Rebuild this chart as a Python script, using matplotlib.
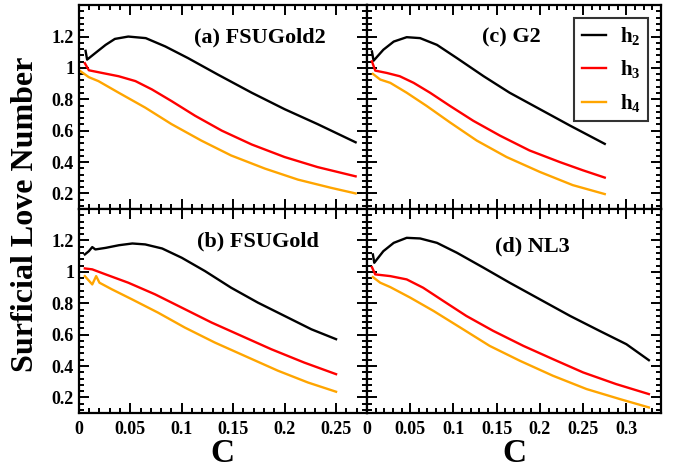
import numpy as np
import matplotlib
matplotlib.use("Agg")
import matplotlib.pyplot as plt
from matplotlib.ticker import MultipleLocator, FuncFormatter

plt.rcParams['font.family'] = ['Liberation Serif', 'DejaVu Serif']
plt.rcParams['font.weight'] = 'bold'
plt.rcParams['mathtext.fontset'] = 'custom'
plt.rcParams['mathtext.rm'] = 'Liberation Serif:bold'
plt.rcParams['mathtext.it'] = 'Liberation Serif:bold'
plt.rcParams['mathtext.bf'] = 'Liberation Serif:bold'

# (a) FSUGold2
a_h2_c = [0.0065, 0.008, 0.016, 0.026, 0.035, 0.048, 0.065, 0.084, 0.106, 0.135, 0.168, 0.2, 0.232, 0.269]
a_h2_v = [1.109, 1.053, 1.095, 1.147, 1.185, 1.2, 1.19, 1.137, 1.063, 0.958, 0.842, 0.737, 0.642, 0.526]
a_h3_c = [0.0058, 0.0097, 0.0226, 0.0387, 0.055, 0.071, 0.09, 0.113, 0.139, 0.168, 0.2, 0.232, 0.269]
a_h3_v = [1.03, 0.985, 0.968, 0.947, 0.916, 0.863, 0.789, 0.695, 0.6, 0.512, 0.432, 0.368, 0.309]
a_h4_c = [0.0016, 0.0097, 0.019, 0.0387, 0.0645, 0.09, 0.119, 0.148, 0.181, 0.213, 0.245, 0.269]
a_h4_v = [0.979, 0.941, 0.916, 0.842, 0.747, 0.642, 0.537, 0.442, 0.358, 0.288, 0.236, 0.2]

# (b) FSUGold
b_h2_c = [0.0058, 0.0097, 0.013, 0.016, 0.026, 0.039, 0.052, 0.0645, 0.081, 0.1, 0.1226, 0.148, 0.174, 0.2, 0.226, 0.25]
b_h2_v = [1.111, 1.132, 1.158, 1.143, 1.153, 1.17, 1.181, 1.175, 1.149, 1.09, 1.005, 0.899, 0.804, 0.719, 0.634, 0.571]
b_h3_c = [0.0058, 0.013, 0.026, 0.048, 0.074, 0.1, 0.129, 0.158, 0.187, 0.219, 0.25]
b_h3_v = [1.022, 1.016, 0.984, 0.931, 0.857, 0.772, 0.677, 0.592, 0.507, 0.422, 0.348]
b_h4_c = [0.0058, 0.013, 0.0168, 0.02, 0.032, 0.0516, 0.077, 0.103, 0.132, 0.161, 0.1935, 0.2226, 0.25]
b_h4_v = [0.973, 0.92, 0.973, 0.931, 0.889, 0.825, 0.74, 0.645, 0.55, 0.465, 0.37, 0.295, 0.236]

# (c) G2
c_h2_c = [0.0058, 0.0077, 0.019, 0.031, 0.046, 0.0615, 0.081, 0.104, 0.135, 0.165, 0.2, 0.235, 0.275]
c_h2_v = [1.105, 1.046, 1.116, 1.168, 1.196, 1.19, 1.147, 1.063, 0.947, 0.842, 0.737, 0.632, 0.516]
c_h3_c = [0.0058, 0.0096, 0.023, 0.038, 0.054, 0.073, 0.096, 0.123, 0.154, 0.188, 0.223, 0.25, 0.275]
c_h3_v = [1.042, 0.983, 0.968, 0.947, 0.905, 0.842, 0.758, 0.663, 0.568, 0.474, 0.4, 0.347, 0.301]
c_h4_c = [0.0069, 0.0154, 0.027, 0.046, 0.069, 0.096, 0.127, 0.1615, 0.2, 0.238, 0.275]
c_h4_v = [0.962, 0.926, 0.905, 0.842, 0.758, 0.653, 0.537, 0.432, 0.337, 0.253, 0.196]

# (d) NL3
d_h2_c = [0.0069, 0.0085, 0.019, 0.031, 0.046, 0.0615, 0.081, 0.104, 0.135, 0.165, 0.2, 0.235, 0.269, 0.3, 0.326]
d_h2_v = [1.111, 1.058, 1.132, 1.185, 1.217, 1.213, 1.185, 1.122, 1.026, 0.931, 0.825, 0.719, 0.624, 0.539, 0.437]
d_h3_c = [0.0058, 0.0096, 0.027, 0.046, 0.065, 0.0885, 0.115, 0.146, 0.181, 0.215, 0.25, 0.288, 0.326]
d_h3_v = [1.03, 0.984, 0.973, 0.952, 0.899, 0.814, 0.719, 0.624, 0.528, 0.444, 0.359, 0.285, 0.221]
d_h4_c = [0.0069, 0.0154, 0.027, 0.05, 0.077, 0.108, 0.142, 0.177, 0.215, 0.254, 0.292, 0.326]
d_h4_v = [0.967, 0.931, 0.903, 0.836, 0.751, 0.645, 0.528, 0.433, 0.338, 0.253, 0.19, 0.136]

panels = {
    'a': ("(a) FSUGold2", [(a_h2_c, a_h2_v), (a_h3_c, a_h3_v), (a_h4_c, a_h4_v)]),
    'b': ("(b) FSUGold", [(b_h2_c, b_h2_v), (b_h3_c, b_h3_v), (b_h4_c, b_h4_v)]),
    'c': ("(c) G2", [(c_h2_c, c_h2_v), (c_h3_c, c_h3_v), (c_h4_c, c_h4_v)]),
    'd': ("(d) NL3", [(d_h2_c, d_h2_v), (d_h3_c, d_h3_v), (d_h4_c, d_h4_v)]),
}
colors = ['black', '#ff0000', '#ffa500']
names = ['h$_2$', 'h$_3$', 'h$_4$']

fig = plt.figure(figsize=(6.8, 4.71), dpi=100)
gs = fig.add_gridspec(2, 2, left=0.116, right=0.972, top=0.989, bottom=0.123,
                      hspace=0, wspace=0, width_ratios=[288, 294])
axes = {'a': fig.add_subplot(gs[0, 0]), 'b': fig.add_subplot(gs[1, 0]),
        'c': fig.add_subplot(gs[0, 1]), 'd': fig.add_subplot(gs[1, 1])}
label_pos = {'a': (0.63, 0.84), 'b': (0.62, 0.84), 'c': (0.49, 0.84), 'd': (0.563, 0.815)}

def tick_fmt(v, p):
    if v > 1.3:
        return ''
    return '%g' % round(v, 3)

fmt = FuncFormatter(tick_fmt)
for key, ax in axes.items():
    title, series = panels[key]
    for (c, v), col, nm in zip(series, colors, names):
        ax.plot(c, v, color=col, lw=1.7, label=nm)
    ax.set_ylim(0.1, 1.4)
    ax.set_xlim(0, 0.28 if key in 'ab' else 0.34)
    ax.xaxis.set_major_locator(MultipleLocator(0.05))
    ax.xaxis.set_minor_locator(MultipleLocator(0.01))
    ax.yaxis.set_major_locator(MultipleLocator(0.2))
    ax.yaxis.set_minor_locator(MultipleLocator(0.04))
    ax.xaxis.set_major_formatter(fmt)
    ax.yaxis.set_major_formatter(fmt)
    ax.tick_params(which='both', direction='in', top=True, right=True, width=1.4,
                   labelsize=13)
    ax.tick_params(axis='x', which='major', pad=5.5)
    ax.tick_params(which='major', length=7.5)
    ax.tick_params(which='minor', length=3.6)
    for s in ax.spines.values():
        s.set_linewidth(1.6)
    if key in 'ac':
        ax.tick_params(labelbottom=False)
    else:
        ax.set_xlabel('C', fontsize=24, fontweight='bold', labelpad=0)
    if key in 'cd':
        ax.tick_params(labelleft=False)
    for lab in ax.get_xticklabels() + ax.get_yticklabels():
        lab.set_fontweight('bold')
    ax.text(*label_pos[key], title, transform=ax.transAxes, ha='center', va='center',
            fontsize=16, fontweight='bold')

leg = axes['c'].legend(loc='upper right', fontsize=15, frameon=True, fancybox=False,
                       handlelength=1.15, labelspacing=0.55, borderaxespad=0.6,
                       handletextpad=0.7, borderpad=0.35)
leg.get_frame().set_edgecolor('black')
leg.get_frame().set_linewidth(1.5)

fig.text(0.037, 0.546, 'Surficial Love Number', rotation=90, ha='center', va='center',
         fontsize=23, fontweight='bold')

fig.savefig('out.png', dpi=100)
